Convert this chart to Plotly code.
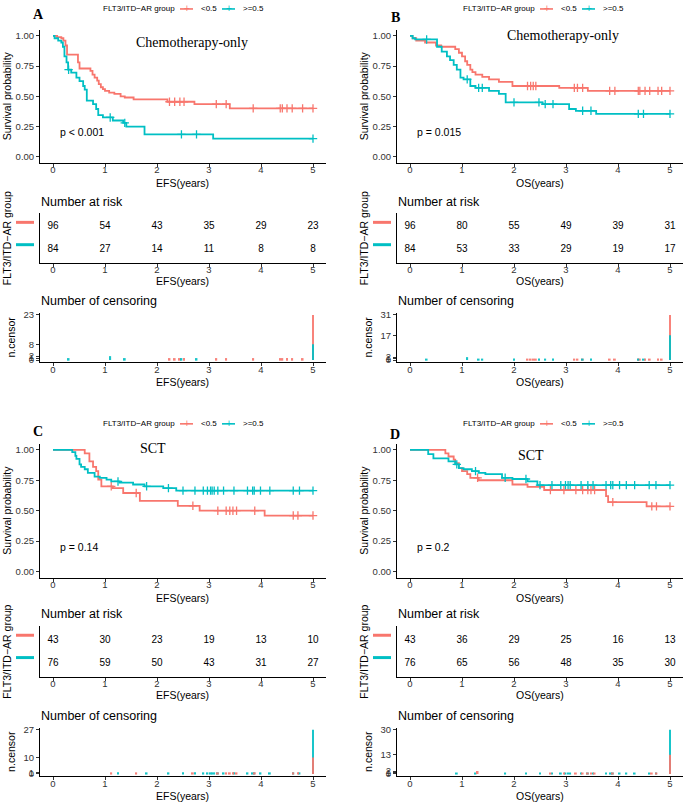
import plotly.graph_objects as go

W, H = 685, 805
RED = "#F8766D"
TEAL = "#00BFC4"
SANS = "Liberation Sans, Arial, sans-serif"
SERIF = "Liberation Serif, Times New Roman, serif"

# ---------------- data ----------------
GROUPS = ["<0.5", ">=0.5"]
LEGEND_TITLE = "FLT3/ITD\u2212AR group"
RISK_TIMES = [0, 1, 2, 3, 4, 5]
X_TICKS = [0, 1, 2, 3, 4, 5]
KM_Y_TICKS = [0, 0.25, 0.5, 0.75, 1.0]
END_TIME = 5.0

# Panel A : Chemotherapy-only, EFS
A_RED_T = [0, 0.08, 0.16, 0.2, 0.24, 0.27, 0.48, 0.51, 0.72, 0.76, 0.8, 0.85, 0.88, 0.92, 0.96, 1.0, 1.08, 1.18, 1.3, 1.38, 1.55, 2.2, 2.72, 3.4]
A_RED_S = [1.0, 0.99, 0.98, 0.96, 0.92, 0.845, 0.78, 0.73, 0.71, 0.68, 0.655, 0.63, 0.60, 0.575, 0.56, 0.545, 0.53, 0.52, 0.50, 0.49, 0.475, 0.455, 0.435, 0.40]
A_RED_CT = [2.24, 2.34, 2.44, 2.52, 3.14, 3.33, 3.85, 4.37, 4.41, 4.5, 4.6, 4.8, 5.0]
A_RED_CN = [1, 1, 1, 1, 1, 1, 1, 1, 1, 1, 1, 1, 23]
A_TEAL_T = [0, 0.03, 0.1, 0.16, 0.19, 0.22, 0.26, 0.29, 0.35, 0.45, 0.51, 0.58, 0.61, 0.65, 0.77, 0.83, 0.87, 0.96, 1.15, 1.35, 1.41, 1.76, 3.08]
A_TEAL_S = [1.0, 0.98, 0.96, 0.945, 0.91, 0.83, 0.78, 0.72, 0.695, 0.655, 0.625, 0.585, 0.555, 0.465, 0.435, 0.395, 0.345, 0.325, 0.30, 0.28, 0.25, 0.185, 0.15]
A_TEAL_CT = [0.3, 1.1, 1.38, 2.47, 2.76, 5.0]
A_TEAL_CN = [1, 2, 1, 1, 1, 8]
A_RISK_RED = [96, 54, 43, 35, 29, 23]
A_RISK_TEAL = [84, 27, 14, 11, 8, 8]

# Panel B : Chemotherapy-only, OS
B_RED_T = [0, 0.05, 0.12, 0.29, 0.5, 0.6, 0.87, 0.94, 1.0, 1.06, 1.1, 1.16, 1.2, 1.26, 1.39, 1.52, 1.71, 1.97, 2.87, 3.42]
B_RED_S = [1.0, 0.98, 0.96, 0.945, 0.92, 0.91, 0.89, 0.86, 0.83, 0.79, 0.76, 0.72, 0.70, 0.68, 0.66, 0.64, 0.62, 0.585, 0.57, 0.545]
B_RED_CT = [2.26, 2.32, 2.37, 2.42, 3.16, 3.22, 3.32, 3.84, 3.94, 4.39, 4.42, 4.52, 4.61, 4.77, 4.84, 5.0]
B_RED_CN = [1, 1, 1, 1, 1, 1, 1, 1, 1, 1, 1, 1, 1, 1, 1, 31]
B_TEAL_T = [0, 0.05, 0.1, 0.52, 0.61, 0.71, 0.77, 0.84, 0.9, 0.97, 1.03, 1.16, 1.26, 1.52, 1.71, 1.84, 2.55, 3.06, 3.19, 3.58]
B_TEAL_S = [1.0, 0.98, 0.97, 0.91, 0.87, 0.83, 0.80, 0.76, 0.72, 0.655, 0.64, 0.585, 0.57, 0.545, 0.52, 0.45, 0.435, 0.395, 0.38, 0.355]
B_TEAL_CT = [0.32, 1.1, 1.32, 1.39, 2.0, 2.48, 2.6, 2.75, 3.32, 3.48, 4.39, 4.49, 5.0]
B_TEAL_CN = [1, 2, 1, 1, 1, 1, 1, 1, 1, 1, 1, 1, 17]
B_RISK_RED = [96, 80, 55, 49, 39, 31]
B_RISK_TEAL = [84, 53, 33, 29, 19, 17]

# Panel C : SCT, EFS
C_RED_T = [0, 0.61, 0.7, 0.77, 0.83, 0.87, 0.93, 1.15, 1.35, 1.67, 2.4, 2.82, 4.07]
C_RED_S = [1.0, 0.97, 0.905, 0.86, 0.825, 0.755, 0.70, 0.685, 0.645, 0.58, 0.54, 0.50, 0.46]
C_RED_CT = [1.12, 1.6, 2.69, 3.17, 3.33, 3.4, 3.46, 3.53, 3.88, 4.62, 4.71, 5.0]
C_RED_CN = [1, 1, 1, 1, 1, 1, 1, 1, 1, 1, 1, 10]
C_TEAL_T = [0, 0.37, 0.43, 0.45, 0.51, 0.54, 0.61, 0.67, 0.8, 0.9, 1.03, 1.12, 1.28, 1.54, 1.76, 2.12, 2.37]
C_TEAL_S = [1.0, 0.98, 0.95, 0.925, 0.88, 0.86, 0.84, 0.81, 0.78, 0.77, 0.755, 0.74, 0.73, 0.715, 0.70, 0.685, 0.665]
C_TEAL_CT = [1.25, 1.8, 2.22, 2.5, 2.73, 2.89, 2.97, 3.03, 3.06, 3.1, 3.17, 3.28, 3.48, 3.74, 3.84, 3.87, 3.99, 4.17, 4.62, 4.74, 5.0]
C_TEAL_CN = [1, 1, 1, 1, 1, 1, 1, 1, 1, 1, 1, 1, 1, 1, 1, 1, 1, 1, 1, 1, 27]
C_RISK_RED = [43, 30, 23, 19, 13, 10]
C_RISK_TEAL = [76, 59, 50, 43, 31, 27]

# Panel D : SCT, OS
D_RED_T = [0, 0.68, 0.74, 0.84, 0.87, 0.94, 1.0, 1.1, 1.16, 1.32, 1.97, 2.26, 2.58, 3.77, 3.81, 4.55]
D_RED_S = [1.0, 0.97, 0.945, 0.92, 0.89, 0.85, 0.825, 0.80, 0.77, 0.75, 0.715, 0.695, 0.67, 0.62, 0.57, 0.535]
D_RED_CT = [1.3, 2.7, 2.96, 3.19, 3.32, 3.42, 3.48, 3.55, 3.9, 4.65, 4.74, 5.0]
D_RED_CN = [2, 1, 1, 1, 1, 1, 1, 1, 1, 1, 1, 13]
D_TEAL_T = [0, 0.35, 0.45, 0.74, 0.87, 0.94, 1.03, 1.19, 1.32, 1.45, 1.77, 1.97, 2.26, 2.45]
D_TEAL_S = [1.0, 0.965, 0.93, 0.905, 0.88, 0.85, 0.84, 0.825, 0.81, 0.80, 0.77, 0.76, 0.74, 0.71]
D_TEAL_CT = [0.9, 1.26, 1.83, 2.23, 2.5, 2.73, 2.9, 2.99, 3.04, 3.08, 3.29, 3.42, 3.52, 3.77, 3.86, 3.9, 4.03, 4.16, 4.32, 4.6, 4.73, 5.0]
D_TEAL_CN = [1, 1, 1, 1, 1, 1, 1, 1, 1, 1, 1, 1, 1, 1, 1, 1, 1, 1, 1, 1, 1, 30]
D_RISK_RED = [43, 36, 29, 25, 16, 13]
D_RISK_TEAL = [76, 65, 56, 48, 35, 30]

LETTERS = ["A", "B", "C", "D"]
TITLES = ["Chemotherapy-only", "Chemotherapy-only", "SCT", "SCT"]
XLABELS = ["EFS(years)", "OS(years)", "EFS(years)", "OS(years)"]
PVALUES = ["p < 0.001", "p = 0.015", "p = 0.14", "p = 0.2"]

# ---------------- build ----------------
panels = [
    dict(red=(A_RED_T, A_RED_S, A_RED_CT, A_RED_CN), teal=(A_TEAL_T, A_TEAL_S, A_TEAL_CT, A_TEAL_CN), risk=(A_RISK_RED, A_RISK_TEAL)),
    dict(red=(B_RED_T, B_RED_S, B_RED_CT, B_RED_CN), teal=(B_TEAL_T, B_TEAL_S, B_TEAL_CT, B_TEAL_CN), risk=(B_RISK_RED, B_RISK_TEAL)),
    dict(red=(C_RED_T, C_RED_S, C_RED_CT, C_RED_CN), teal=(C_TEAL_T, C_TEAL_S, C_TEAL_CT, C_TEAL_CN), risk=(C_RISK_RED, C_RISK_TEAL)),
    dict(red=(D_RED_T, D_RED_S, D_RED_CT, D_RED_CN), teal=(D_TEAL_T, D_TEAL_S, D_TEAL_CT, D_TEAL_CN), risk=(D_RISK_RED, D_RISK_TEAL)),
]

# layout geometry in pixels
COL_X = [(40, 326), (397, 683)]
ROW_KM = [(27, 161), (444, 579)]
ROW_RISK = [(212, 262), (628, 679)]
ROW_CENS = [(312, 362), (730, 779)]
ROW_SHIFT = [0, 418]  # vertical offset of second row of panels (pixels)


def fx(px):
    return px / W


def fy(py):
    return 1 - py / H


def surv_at(ts, ss, t):
    v = ss[0]
    for ti, si in zip(ts, ss):
        if ti <= t:
            v = si
    return v


fig = go.Figure()
layout = dict(
    width=W, height=H, margin=dict(l=0, r=0, t=0, b=0),
    paper_bgcolor="white", plot_bgcolor="white",
    showlegend=False, barmode="overlay",
    font=dict(family=SANS, color="black"),
)
annotations = []
shapes = []

axis_common = dict(
    showline=True, linecolor="black", linewidth=1, ticks="outside", ticklen=3,
    tickcolor="#333", tickwidth=1, tickfont=dict(size=9.5, color="#333", family=SANS),
    showgrid=False, zeroline=False, fixedrange=True,
)


def ann(text, px, py, size, xanchor="left", family=SANS, color="black", bold=False, angle=0):
    t = f"<b>{text}</b>" if bold else text
    annotations.append(dict(
        text=t, x=fx(px), y=fy(py), xref="paper", yref="paper",
        xanchor=xanchor, yanchor="middle", showarrow=False, textangle=angle,
        font=dict(size=size, family=family, color=color), borderpad=0,
    ))


for p, pdata in enumerate(panels):
    col, row = p % 2, p // 2
    x0, x1 = COL_X[col]
    idx_km, idx_risk, idx_cens = p * 3 + 1, p * 3 + 2, p * 3 + 3
    xr = [-0.25, 5.25]

    for idx, (top, bot) in [(idx_km, ROW_KM[row]), (idx_risk, ROW_RISK[row]), (idx_cens, ROW_CENS[row])]:
        xa = dict(axis_common, domain=[fx(x0), fx(x1)], range=xr, tickvals=X_TICKS,
                  anchor=f"y{idx}", ticklabelstandoff=-5)
        layout[f"xaxis{idx}"] = xa
        layout[f"yaxis{idx}"] = dict(axis_common, domain=[fy(bot), fy(top)], anchor=f"x{idx}")

    layout[f"yaxis{idx_km}"].update(range=[-0.05, 1.05], tickvals=KM_Y_TICKS, tickformat=".2f")
    layout[f"yaxis{idx_risk}"].update(range=[-0.6, 1.6], showticklabels=False, ticks="")
    all_counts = list(pdata["red"][3]) + list(pdata["teal"][3])
    m = max(all_counts)
    layout[f"yaxis{idx_cens}"].update(range=[-0.05 * m, 1.05 * m], tickvals=sorted(set([0] + all_counts)))

    # --- KM curves + censor marks ---
    for key, color in (("red", RED), ("teal", TEAL)):
        ts, ss, ct, cn = pdata[key]
        xs = list(ts) + [END_TIME]
        ys = list(ss) + [ss[-1]]
        fig.add_trace(go.Scatter(x=xs, y=ys, mode="lines", line=dict(color=color, width=1.8, shape="hv"),
                                 xaxis=f"x{idx_km}", yaxis=f"y{idx_km}", hoverinfo="skip"))
        fig.add_trace(go.Scatter(x=ct, y=[surv_at(ts, ss, t) for t in ct], mode="markers",
                                 marker=dict(symbol="cross-thin", size=6, line=dict(width=1.3, color=color)),
                                 xaxis=f"x{idx_km}", yaxis=f"y{idx_km}", hoverinfo="skip"))

    # --- risk table ---
    for vals, yv in ((pdata["risk"][0], 1), (pdata["risk"][1], 0)):
        fig.add_trace(go.Scatter(x=RISK_TIMES, y=[yv] * len(RISK_TIMES), mode="text",
                                 text=[str(v) for v in vals],
                                 textfont=dict(size=10, color="black", family=SANS),
                                 xaxis=f"x{idx_risk}", yaxis=f"y{idx_risk}", hoverinfo="skip"))

    # --- censoring bars (taller group drawn first) ---
    order = [("red", RED), ("teal", TEAL)]
    if max(pdata["teal"][3]) > max(pdata["red"][3]):
        order = order[::-1]
    for key, color in order:
        ts, ss, ct, cn = pdata[key]
        fig.add_trace(go.Bar(x=ct, y=cn, width=0.035, marker=dict(color=color, line=dict(width=0)),
                             opacity=0.9, xaxis=f"x{idx_cens}", yaxis=f"y{idx_cens}", hoverinfo="skip"))

    # --- text decorations ---
    dy = ROW_SHIFT[row]
    dx = 0 if col == 0 else 357
    xc = (x0 + x1) / 2
    # legend
    lg_y = 6 if row == 0 else 424
    lg_title_right = 176 + (col * 360)
    ann(LEGEND_TITLE, lg_title_right, lg_y, 8, xanchor="right")
    kx = lg_title_right + 4
    for gname, color in ((GROUPS[0], RED), (GROUPS[1], TEAL)):
        shapes.append(dict(type="line", xref="paper", yref="paper", x0=fx(kx), x1=fx(kx + 13),
                           y0=fy(lg_y), y1=fy(lg_y), line=dict(color=color, width=1.6)))
        ann("+", kx + 6.5, lg_y - 0.5, 10, xanchor="center", color=color)
        ann(gname, kx + 20, lg_y, 8)
        kx += 42
    # panel letter, title, p-value
    ann(LETTERS[p], 38 + dx, (12 if col == 0 else 15) + (0 if row == 0 else 420), 14, xanchor="center", family=SERIF, bold=True)
    title_pos = [(192, 40), (563, 33), (153, 449), (531, 456)][p]
    ann(TITLES[p], title_pos[0], title_pos[1], 14, xanchor="center", family=SERIF)
    ann(PVALUES[p], 59 + dx, 130 + dy, 10.5)
    # axis titles
    km_top, km_bot = ROW_KM[row]
    rk_top, rk_bot = ROW_RISK[row]
    cs_top, cs_bot = ROW_CENS[row]
    ann(XLABELS[p], xc, km_bot + 20, 10.5, xanchor="center")
    ann(XLABELS[p], xc, rk_bot + 18.5, 10.5, xanchor="center")
    ann(XLABELS[p], xc, cs_bot + 20, 10.5, xanchor="center")
    ann("Survival probability", 7 + dx, (km_top + km_bot) / 2, 10.5, xanchor="center", angle=-90)
    ann(LEGEND_TITLE, 7 + dx, (rk_top + rk_bot) / 2, 10.5, xanchor="center", angle=-90)
    ann("n.censor", 11 + dx, (cs_top + cs_bot) / 2, 10.5, xanchor="center", angle=-90)
    ann("Number at risk", x0, rk_top - 12, 12.5)
    ann("Number of censoring", x0, cs_top - 12, 12.5)
    # strata colour keys beside risk table
    kx0 = 16 + dx
    for color, ypx in ((RED, rk_top + 9), (TEAL, rk_top + 31.5)):
        shapes.append(dict(type="rect", xref="paper", yref="paper", x0=fx(kx0), x1=fx(kx0 + 18),
                           y0=fy(ypx + 1.5), y1=fy(ypx - 1.5), fillcolor=color, line=dict(width=0)))

layout["annotations"] = annotations
layout["shapes"] = shapes
fig.update_layout(**layout)
fig.write_html("out.html", config={"displayModeBar": False},
               post_script="document.body.style.margin='0';document.body.style.overflow='hidden';")
